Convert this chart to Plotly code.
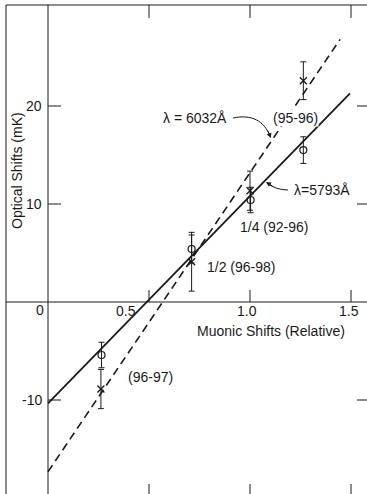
import plotly.graph_objects as go

# ---------------- data ----------------
circle_x = [0.265, 0.711, 1.003, 1.264]
circle_y = [-5.41, 5.41, 10.41, 15.5]
circle_err = [1.3, 1.43, 1.3, 1.36]

cross_x = [0.262, 0.711, 1.0, 1.264]
cross_y = [-8.88, 4.11, 11.36, 22.58]
cross_err = [2.0, 3.0, 2.0, 1.93]

fit_solid_x = [0.0, 1.495]
fit_solid_y = [-10.34, 21.3]
fit_dash_x = [0.0, 1.446]
fit_dash_y = [-17.32, 26.8]

x_ticks = [0.5, 1.0, 1.5]
x_tick_labels = ["0.5", "1.0", "1.5"]
y_ticks = [20, 10, -10]
y_tick_labels = ["20", "10", "-10"]

# ---------------- geometry helpers (pixel -> data) ----------------
W, H = 367, 494
X0PX, XSCALE = 48, 202.0
Y0PX, YSCALE = 302, 9.8


def dx(px):
    return (px - X0PX) / XSCALE


def dy(py):
    return (Y0PX - py) / YSCALE


FONT = "Liberation Sans, Arial, sans-serif"
INK = "#1a1a1a"

fig = go.Figure()

fig.add_trace(go.Scatter(x=fit_dash_x, y=fit_dash_y, mode="lines",
                         line=dict(color=INK, width=1.6, dash="8px,5px"),
                         hoverinfo="skip", showlegend=False))
fig.add_trace(go.Scatter(x=fit_solid_x, y=fit_solid_y, mode="lines",
                         line=dict(color=INK, width=1.8),
                         hoverinfo="skip", showlegend=False))
fig.add_trace(go.Scatter(x=circle_x, y=circle_y, mode="markers",
                         marker=dict(symbol="circle-open", size=7, color=INK,
                                     line=dict(width=1.2, color=INK)),
                         error_y=dict(type="data", array=circle_err, visible=True,
                                      thickness=1, width=3, color=INK),
                         showlegend=False))
fig.add_trace(go.Scatter(x=cross_x, y=cross_y, mode="markers",
                         marker=dict(symbol="x-thin", size=7, color=INK,
                                     line=dict(width=1.3, color=INK)),
                         error_y=dict(type="data", array=cross_err, visible=True,
                                      thickness=1, width=3, color=INK),
                         showlegend=False))

shapes = []
line_style = dict(color=INK, width=1)
# frame (left and top borders)
shapes.append(dict(type="line", xref="x", yref="y", x0=dx(6), x1=dx(6),
                   y0=dy(5), y1=dy(500), line=line_style))
shapes.append(dict(type="line", xref="x", yref="y", x0=dx(6), x1=dx(370),
                   y0=dy(5), y1=dy(5), line=line_style))
# axes through the origin
shapes.append(dict(type="line", xref="x", yref="y", x0=0, x1=0,
                   y0=dy(5), y1=dy(500), line=line_style))
shapes.append(dict(type="line", xref="x", yref="y", x0=dx(6), x1=dx(370),
                   y0=0, y1=0, line=line_style))
# ticks on x axis, top border and bottom edge
for xv in x_ticks:
    shapes.append(dict(type="line", xref="x", yref="y", x0=xv, x1=xv,
                       y0=0, y1=dy(Y0PX - 12), line=line_style))
    shapes.append(dict(type="line", xref="x", yref="y", x0=xv, x1=xv,
                       y0=dy(5), y1=dy(18), line=line_style))
    shapes.append(dict(type="line", xref="x", yref="y", x0=xv, x1=xv,
                       y0=dy(484), y1=dy(500), line=line_style))
# ticks on y axis and right edge
for yv in y_ticks:
    shapes.append(dict(type="line", xref="x", yref="y", x0=0, x1=dx(X0PX + 13),
                       y0=yv, y1=yv, line=line_style))
    shapes.append(dict(type="line", xref="x", yref="y", x0=dx(357), x1=dx(370),
                       y0=yv, y1=yv, line=line_style))

# curved label arrows
shapes.append(dict(type="path", xref="x", yref="y",
                   path=f"M {dx(233)},{dy(118)} C {dx(252)},{dy(114)} {dx(264)},{dy(121)} {dx(270)},{dy(136)}",
                   line=dict(color=INK, width=1)))
shapes.append(dict(type="path", xref="x", yref="y",
                   path=f"M {dx(288)},{dy(190)} Q {dx(276)},{dy(190)} {dx(267)},{dy(183)}",
                   line=dict(color=INK, width=1)))

annotations = []
tfont = dict(family=FONT, size=14, color=INK)
# x tick labels
x_label_px = [126, 247, 349]
for lab, px in zip(x_tick_labels, x_label_px):
    annotations.append(dict(x=dx(px), y=dy(311), xref="x", yref="y", text=lab,
                            showarrow=False, font=tfont, xanchor="center", yanchor="middle"))
annotations.append(dict(x=dx(40), y=dy(310), xref="x", yref="y", text="0",
                        showarrow=False, font=tfont, xanchor="center", yanchor="middle"))
# y tick labels
for lab, yv in zip(y_tick_labels, y_ticks):
    annotations.append(dict(x=dx(44), y=yv, xref="x", yref="y", text=lab,
                            showarrow=False, font=tfont, xanchor="right", yanchor="middle"))
# axis titles
annotations.append(dict(x=dx(271), y=dy(331), xref="x", yref="y",
                        text="Muonic Shifts (Relative)", showarrow=False, font=tfont,
                        xanchor="center", yanchor="middle"))
annotations.append(dict(x=dx(17), y=dy(171), xref="x", yref="y",
                        text="Optical Shifts (mK)", showarrow=False, font=tfont,
                        textangle=-90, xanchor="center", yanchor="middle"))
# point labels
labels = [("λ = 6032Å", 195, 118), ("(95-96)", 295, 118), ("λ=5793Å", 322, 190),
          ("1/4 (92-96)", 274, 227), ("1/2 (96-98)", 241, 267), ("(96-97)", 150, 377)]
for txt, px, py in labels:
    annotations.append(dict(x=dx(px), y=dy(py), xref="x", yref="y", text=txt,
                            showarrow=False, font=tfont, xanchor="center", yanchor="middle",
                            bgcolor="white" if txt == "(95-96)" else "rgba(0,0,0,0)",
                            borderpad=0))
# arrowheads
annotations.append(dict(x=dx(271), y=dy(138), xref="x", yref="y", text="",
                        showarrow=True, arrowhead=2, arrowsize=1, arrowwidth=1,
                        arrowcolor=INK, ax=-4, ay=-9))
annotations.append(dict(x=dx(266), y=dy(182), xref="x", yref="y", text="",
                        showarrow=True, arrowhead=2, arrowsize=1, arrowwidth=1,
                        arrowcolor=INK, ax=8, ay=5))

fig.update_layout(
    width=W, height=H, autosize=False,
    margin=dict(l=0, r=0, t=0, b=0),
    paper_bgcolor="white", plot_bgcolor="white",
    xaxis=dict(range=[dx(0), dx(W)], visible=False, showgrid=False, zeroline=False),
    yaxis=dict(range=[dy(H), dy(0)], visible=False, showgrid=False, zeroline=False),
    shapes=shapes, annotations=annotations, showlegend=False,
)

fig.write_html("out.html")
